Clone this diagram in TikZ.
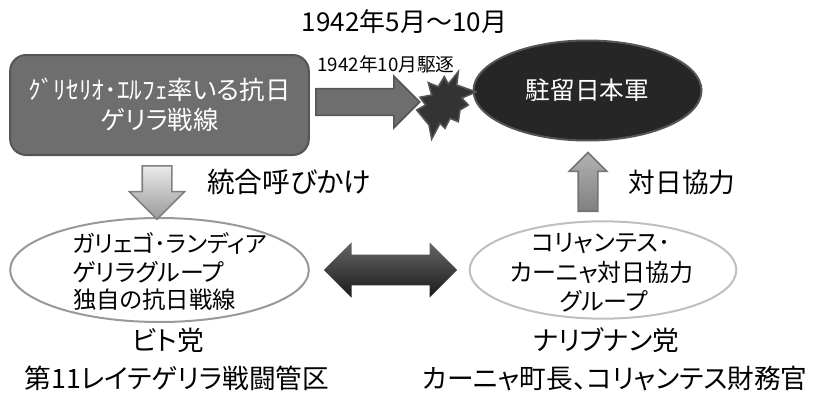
\documentclass[tikz,border=0pt]{standalone}
\usepackage{fontspec}
\usepackage{xcolor}
\usetikzlibrary{shapes.arrows,shapes.geometric}
\setmainfont[RawFeature=+palt]{Noto Sans CJK JP}
\definecolor{guerillagray}{RGB}{110,110,110}
\definecolor{edgegray}{RGB}{85,85,85}
\definecolor{armyblack}{RGB}{38,38,38}
\tikzset{
  label24/.style={font=\fontsize{18}{22}\selectfont,inner sep=0pt},
  label27/.style={font=\fontsize{20}{24}\selectfont,inner sep=0pt},
  blockarrow/.style={single arrow,single arrow tip angle=90,line width=1.2pt,anchor=tail},
}
\begin{document}
\begin{tikzpicture}[x=0.75pt,y=-0.75pt]
        \useasboundingbox (0,0) rectangle (815,393);

        % groups
        \node[draw=edgegray,line width=1.5pt,fill=guerillagray,rounded corners=12pt,minimum width=224pt,minimum height=75pt,text=white,align=center,font=\fontsize{19}{22.5}\selectfont] (guerilla) at (159.5,105) {ｸﾞﾘｾﾘｵ･ｴﾙﾌｪ率いる抗日\\ゲリラ戦線};
        \node[draw=edgegray,line width=1.5pt,fill=armyblack,ellipse,minimum width=171pt,minimum height=75pt,text=white,font=\fontsize{18.5}{22}\selectfont,inner sep=0pt] (army) at (587.5,90.5) {駐留日本軍};
        \node[draw=black!40,line width=1.5pt,ellipse,minimum width=224pt,minimum height=78pt,inner sep=0pt] (leyte) at (159.5,270) {};
        \node[draw=black!25,line width=1.5pt,ellipse,minimum width=200pt,minimum height=73pt,inner sep=0pt] (coll) at (603,270) {};

        % text inside the lower ellipses
        \node[label24,font=\fontsize{17.5}{22}\selectfont,anchor=west] (leyte1) at (72,243) {ガリェゴ･ランディア};
        \node[label24,anchor=west] (leyte2) at (72,272) {ゲリラグループ};
        \node[label24,font=\fontsize{17.5}{22}\selectfont,anchor=west] (leyte3) at (73,300) {独自の抗日戦線};
        \node[label24] (coll1) at (601,243) {コリャンテス･};
        \node[label24] (coll2) at (602,272) {カーニャ対日協力};
        \node[label24] (coll3) at (604,301) {グループ};

        % arrows
        \node[blockarrow,draw=edgegray,fill=guerillagray,inner sep=9.4pt,minimum height=78pt,minimum width=37.5pt,single arrow head extend=9.4pt] (expel) at (315,102) {};
        \node[blockarrow,draw=black!55,top color=black!30,bottom color=black!50,inner sep=6.75pt,shape border rotate=90,minimum height=44pt,minimum width=27pt,single arrow head extend=6.75pt] (coop) at (588,212) {};
        \node[blockarrow,draw=black!50,top color=black!8,bottom color=black!40,inner sep=10.5pt,shape border rotate=270,minimum height=40pt,minimum width=40pt,single arrow head extend=9.5pt] (call) at (157,165) {};
        \node[double arrow,double arrow tip angle=90,inner sep=11.25pt,top color=black!60,bottom color=black!90,minimum height=100pt,minimum width=41pt,double arrow head extend=9.3pt] (link) at (390.5,270) {};

        % burst
        \draw[draw=edgegray,line width=1.2pt,fill=black!80,line join=miter] (458.3,71.7) -- (456.7,85) -- (476,92) -- (461.7,98) -- (468.3,105) -- (460,110) -- (458.3,121.7) -- (450,118.3) -- (445,128.3) -- (440,123.3) -- (431.7,139) -- (429,125) -- (416.7,110) -- (425.7,105) -- (420,97.3) -- (431.7,95) -- (428.3,82.7) -- (438.3,86.7) -- (444.3,76.7) -- (448.3,84) -- cycle;

        % labels
        \node[label24,font=\fontsize{19.5}{24}\selectfont] (period) at (404.5,22) {1942年5月～10月};
        \node[font=\fontsize{14}{16}\selectfont,inner sep=0pt] (expelled) at (386,64) {1942年10月駆逐};
        \node[label27,font=\fontsize{20.8}{24}\selectfont] (calltext) at (289,182) {統合呼びかけ};
        \node[label27] (cooptext) at (682,182) {対日協力};
        \node[label27] (bito) at (168,340) {ビト党};
        \node[label27] (district) at (177,378) {第11レイテゲリラ戦闘管区};
        \node[label27] (nali) at (606,340) {ナリブナン党};
        \node[label27] (mayor) at (615,378) {カーニャ町長、コリャンテス財務官};
    \end{tikzpicture}
\end{document}
